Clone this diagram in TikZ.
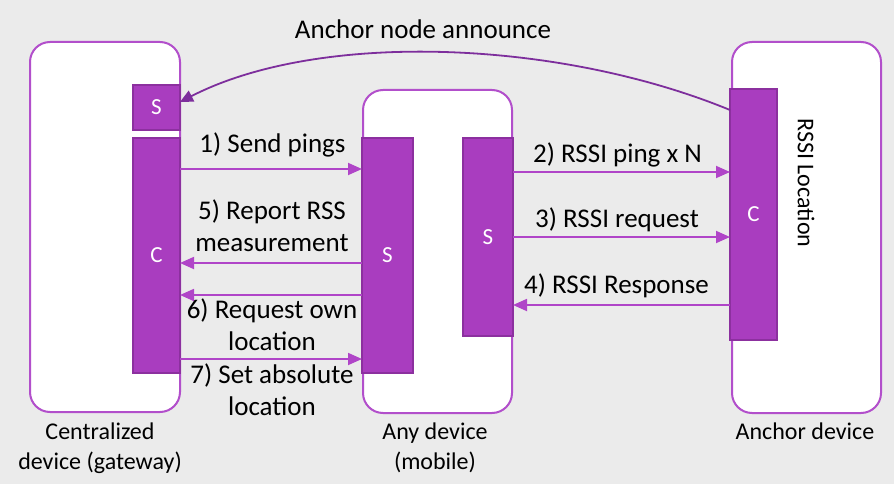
\documentclass[tikz,border=0pt]{standalone}
\usepackage{fontspec}
\setmainfont{Carlito}
\usetikzlibrary{arrows.meta}
\definecolor{bgc}{HTML}{EBEBEB}
\definecolor{pfill}{HTML}{A93DBF}
\definecolor{pborder}{HTML}{8C309F}
\definecolor{devc}{HTML}{B24FCB}
\definecolor{arrc}{HTML}{B045C8}
\definecolor{curvc}{HTML}{7D2E9C}
\newcommand\mlines[1]{\begin{tabular}[t]{@{}c@{}}#1\end{tabular}}
\renewcommand\arraystretch{1}
\begin{document}
\begin{tikzpicture}[x=1pt,y=-1pt,
  dev/.style={draw=devc, line width=2pt, fill=white, rounded corners=20pt, inner sep=0pt, outer sep=0pt},
  pbox/.style={draw=pborder, line width=1.6pt, fill=pfill, text=white, inner sep=0pt, outer sep=0pt, font=\fontsize{23}{27}\selectfont},
  msg/.style={draw=arrc, line width=1.8pt, -{Triangle[length=14pt,width=12pt]}},
  lbl/.style={font=\fontsize{27}{32}\selectfont, inner sep=0pt, anchor=base},
  devlabel/.style={font=\fontsize{24}{30}\selectfont, inner sep=0pt, anchor=base}
]
\fill[bgc] (0,0) rectangle (894,484);
\useasboundingbox (0,0) rectangle (894,484);

% devices
\node[dev, minimum width=150pt, minimum height=370pt] (ld) at (105,227) {};
\node[dev, minimum width=149pt, minimum height=323pt] (md) at (437.5,251.5) {};
\node[dev, minimum width=149pt, minimum height=371pt] (rd) at (806.5,227.5) {};

% purple blocks
\node[pbox, minimum width=47pt, minimum height=45pt] (ls) at (156.5,107.5) {S};
\node[pbox, minimum width=47pt, minimum height=235pt] (lc) at (156.5,255.5) {C};
\node[pbox, minimum width=51pt, minimum height=235pt] (ms) at (387.5,255.5) {S};
\node[pbox, minimum width=50pt, minimum height=198pt] (ss) at (488,237) {S};
\node[pbox, minimum width=47pt, minimum height=251pt] (rc) at (753.5,214.5) {C};

% rows
\coordinate (y1) at (0,169);
\coordinate (y5) at (0,263);
\coordinate (y6) at (0,295);
\coordinate (y7) at (0,359);
\coordinate (y2) at (0,172);
\coordinate (y3) at (0,237);
\coordinate (y4) at (0,305);
\coordinate (ya) at (0,110);
\coordinate (yb) at (0,102);

% connectors
\draw[msg] (lc.east |- y1) -- (ms.west |- y1);
\draw[msg] (ms.west |- y5) -- (lc.east |- y5);
\draw[msg] (ms.west |- y6) -- (lc.east |- y6);
\draw[msg] (lc.east |- y7) -- (ms.west |- y7);
\draw[msg] (ss.east |- y2) -- (rc.west |- y2);
\draw[msg] (ss.east |- y3) -- (rc.west |- y3);
\draw[msg] (rc.west |- y4) -- (ss.east |- y4);
\draw[draw=curvc, line width=1.8pt, -{Triangle[length=13pt,width=12pt]}]
  (rc.west |- ya) .. controls (560,40) and (320,30) .. (ls.east |- yb);

% labels
\node[lbl] (t0) at (423,39) {Anchor node announce};
\node[lbl] (t1) at (272.5,153) {1) Send pings};
\node[lbl] (t5) at (272,219) {\mlines{5) Report RSS\\measurement}};
\node[lbl] (t6) at (272,318) {\mlines{6) Request own\\location}};
\node[lbl] (t7) at (272,383) {\mlines{7) Set absolute\\location}};
\node[lbl] (t2) at (617.5,162) {2) RSSI ping x N};
\node[lbl] (t3) at (617,227) {3) RSSI request};
\node[lbl] (t4) at (616.5,293) {4) RSSI Response};
\node[font=\fontsize{24}{28}\selectfont, inner sep=0pt, rotate=-90] (tr) at (806,183) {RSSI Location};

\node[devlabel] (c1) at (100,439) {\mlines{Centralized\\device (gateway)}};
\node[devlabel] (c2) at (435,439) {\mlines{Any device\\(mobile)}};
\node[devlabel] (c3) at (805,439) {Anchor device};
\end{tikzpicture}
\end{document}
